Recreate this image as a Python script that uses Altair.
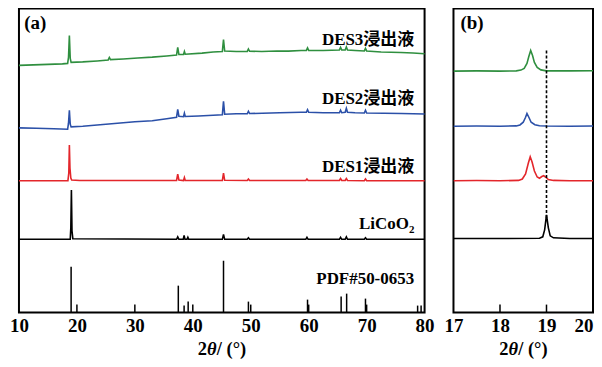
import altair as alt
import pandas as pd

# ---------------- data ----------------
# Panel (a): intensity in arbitrary offset units (stacked patterns)
des3_x = [10.0, 12.5, 15.0, 17.5, 18.4, 18.55, 18.7, 18.85, 19.0, 21.0, 23.5, 25.4, 25.6, 25.8, 28.0, 30.5,
          33.0, 35.5, 37.2, 37.4, 37.6, 38.4, 38.55, 38.7, 41.6, 43.5, 45.1, 45.3, 45.5, 47.5, 49.4, 49.6,
          49.8, 51.9, 54.5, 56.5, 58.7, 59.6, 59.8, 60.0, 62.5, 65.3, 65.5, 65.7, 66.3, 66.5, 66.7, 68.0,
          69.6, 69.8, 70.0, 72.5, 75.9, 78.0, 80.0]
des3_y = [248, 248.5, 249, 249.5, 250, 256, 278, 255, 251, 251.5, 252.5, 253.5, 256, 253.8, 254.5, 255.5,
          256.3, 257.5, 258.5, 266, 259, 259, 262, 259.2, 260.3, 261.5, 262, 274, 262.5, 262, 262, 264.5,
          262.2, 262, 262.5, 262.3, 263, 263, 265.5, 263, 263, 263.5, 266, 263.5, 263.5, 266.5, 263.5, 263,
          262.5, 265, 262.5, 261.5, 261, 260.5, 259.7]

des2_x = [10.0, 13.0, 16.0, 18.4, 18.55, 18.7, 18.85, 19.0, 21.0, 24.0, 27.0, 30.0, 33.0, 35.5, 37.2, 37.4,
          37.6, 38.4, 38.55, 38.7, 41.0, 43.5, 45.1, 45.3, 45.5, 47.5, 49.4, 49.6, 49.8, 52.0, 55.0, 58.7,
          59.6, 59.8, 60.0, 62.5, 65.3, 65.5, 65.7, 66.3, 66.5, 66.7, 68.0, 69.6, 69.8, 70.0, 73.0, 76.0, 80.0]
des2_y = [185.3, 185, 184.5, 184, 190, 203, 189, 186.3, 187, 188.5, 190, 191.5, 192.5, 194.5, 196, 204,
          197, 196.5, 200, 196.8, 197.3, 198, 198.5, 212, 199, 199.5, 199.5, 202, 199.7, 200, 200.5, 201,
          201, 203.5, 201, 200.5, 200.5, 203, 200.5, 201, 205, 201, 200.5, 200.3, 203, 200.3, 200, 199.7, 199.3]

des1_x = [10.0, 18.45, 18.6, 18.7, 18.8, 18.95, 19.1, 20.5, 37.2, 37.4, 37.6, 38.4, 38.55, 38.7, 39.1, 45.1,
          45.3, 45.5, 49.4, 49.6, 49.8, 59.5, 59.7, 59.9, 65.3, 65.5, 65.7, 66.3, 66.5, 66.7, 69.6, 69.8,
          70.0, 80.0]
des1_y = [132.3, 132.3, 140, 168, 145, 135, 133, 132.5, 132.5, 139, 133, 132.5, 135.5, 132.6, 132.5, 132.5,
          140, 132.7, 132.5, 134, 132.5, 132.5, 134, 132.5, 132.5, 134.5, 132.5, 132.5, 134.5, 132.5, 132.3, 134,
          132.3, 132.3]

lco_x = [10.0, 18.85, 18.95, 19.05, 19.15, 19.3, 37.2, 37.4, 37.6, 38.35, 38.5, 38.65, 39.0, 39.15, 39.3,
         45.1, 45.3, 45.5, 49.4, 49.6, 49.8, 59.5, 59.7, 59.9, 65.3, 65.5, 65.7, 66.3, 66.5, 66.7, 69.6,
         69.8, 70.0, 80.0]
lco_y = [73.5, 73.5, 85, 123, 82, 74, 73.5, 76, 73.5, 73.5, 77.5, 73.5, 73.5, 75.5, 73.5,
         73.5, 78.5, 73.5, 73.5, 75, 73.5, 73.5, 75.5, 73.5, 73.5, 75.5, 73.5, 73.5, 76, 73.5, 73.5,
         75, 73.5, 73.5]

pdf_pos = [19.0, 37.5, 38.5, 39.2, 45.3, 49.6, 59.8, 65.6, 66.55, 69.8, 78.8, 79.4]
pdf_h = [46, 27, 7, 11, 52, 11, 13, 16, 19, 14, 7, 7]

# Panel (b): zoom of the (003) peak region
b_des3_x = [17.0, 17.5, 18.0, 18.35, 18.45, 18.52, 18.58, 18.62, 18.66, 18.70, 18.74, 18.8, 18.88, 19.0, 19.5, 20.0]
b_des3_y = [242.3, 242.5, 242.3, 242.5, 243.3, 245, 250, 257, 263, 258, 251, 246, 243.5, 242.5, 242.5, 242.6]
b_des2_x = [17.0, 17.5, 18.0, 18.35, 18.43, 18.5, 18.55, 18.58, 18.62, 18.67, 18.75, 18.85, 19.0, 19.5, 20.0]
b_des2_y = [187, 187.2, 187, 187.3, 188.3, 191, 196, 199.7, 196, 191, 188.5, 187.5, 187.2, 187, 187.2]
b_des1_x = [17.0, 17.5, 18.0, 18.4, 18.48, 18.55, 18.61, 18.65, 18.69, 18.74, 18.8, 18.85, 18.9, 18.94,
            18.98, 19.04, 19.15, 19.5, 20.0]
b_des1_y = [132.3, 132.5, 132.3, 132.6, 134, 139, 150, 156.3, 151, 142, 136, 134.8, 136.5, 137.3,
            136, 133.5, 132.6, 132.3, 132.3]
b_lco_x = [17.0, 18.0, 18.85, 18.92, 18.96, 19.0, 19.04, 19.08, 19.15, 19.5, 20.0]
b_lco_y = [74.3, 74.3, 74.5, 76, 83, 98, 85, 77, 75, 74.3, 74.3]

series_names = ["DES3", "DES2", "DES1", "LiCoO2"]
series_colors = ["#2f8f3f", "#2b50a8", "#e3262b", "#000000"]

labels_a = ["DES3浸出液", "DES2浸出液", "DES1浸出液", "PDF#50-0653"]
labels_a_y = [273.5, 214.5, 146.3, 33.3]

ticks_a = [10, 20, 30, 40, 50, 60, 70, 80]
ticks_b = [17, 18, 19, 20]
inner_ticks_a = [20, 30, 40, 50, 60, 70]
inner_ticks_b = [18, 19]

ref_line_x = 19.0
ref_line_y = (95, 263)

# ---------------- build ----------------
FONT = "Liberation Serif, Noto Sans CJK SC"
W_A, W_B, H = 407, 140, 305


def long_df(xs_list, ys_list, names):
    rows = []
    for xs, ys, n in zip(xs_list, ys_list, names):
        for i, (x, y) in enumerate(zip(xs, ys)):
            rows.append({"x": x, "y": y, "s": n, "i": i})
    return pd.DataFrame(rows)


df_a = long_df([des3_x, des2_x, des1_x, lco_x], [des3_y, des2_y, des1_y, lco_y], series_names)
df_b = long_df([b_des3_x, b_des2_x, b_des1_x, b_lco_x], [b_des3_y, b_des2_y, b_des1_y, b_lco_y], series_names)

ycale = alt.Scale(domain=[0, H], nice=False, zero=False)
color = alt.Color("s:N", scale=alt.Scale(domain=series_names, range=series_colors), legend=None)


def xaxis(vals, right_end=None):
    kw = dict(values=vals, ticks=False, tickSize=0, domain=False, grid=False, title=None,
              labelFont="Liberation Serif", labelFontSize=19, labelFontWeight="bold",
              labelColor="black", labelPadding=4, labelOverlap=False, labelFlush=False)
    if right_end is not None:
        kw["labelAlign"] = alt.condition(f"datum.value == {right_end}", alt.value("right"), alt.value("center"))
    return alt.Axis(**kw)


def title_layers(width):
    x0 = width / 2 - 24.0
    parts = [("2", x0, "normal"), ("θ", x0 + 9.3, "italic"), ("/ (°)", x0 + 19.0, "normal")]
    out = []
    for t, xx, st in parts:
        out.append(alt.Chart(pd.DataFrame({"t": [t]})).mark_text(
            font=FONT, fontSize=18.5, fontWeight="bold", fontStyle=st, align="left",
            baseline="alphabetic", color="black").encode(
            text="t:N", x=alt.value(xx), y=alt.value(H + 43)))
    return out


# Panel (a)
xs_a = alt.Scale(domain=[10, 80], nice=False)
lines_a = alt.Chart(df_a).mark_line(strokeWidth=1.6).encode(
    x=alt.X("x:Q", scale=xs_a, axis=xaxis(ticks_a)),
    y=alt.Y("y:Q", scale=ycale, axis=None),
    color=color, order="i:Q", detail="s:N")
pdf_df = pd.DataFrame({"x": pdf_pos, "y0": [0] * len(pdf_pos), "h": pdf_h})
sticks = alt.Chart(pdf_df).mark_rule(color="black", strokeWidth=1.5).encode(
    x="x:Q", y=alt.Y("y0:Q", scale=ycale), y2="h:Q")
tk_a = pd.DataFrame({"x": inner_ticks_a, "y0": [0] * len(inner_ticks_a), "y1": [8] * len(inner_ticks_a)})
ticks_rule_a = alt.Chart(tk_a).mark_rule(color="black", strokeWidth=1.5).encode(
    x="x:Q", y=alt.Y("y0:Q", scale=ycale), y2="y1:Q")
lab_df = pd.DataFrame({"t": labels_a, "x": [78.2] * len(labels_a), "y": labels_a_y})
labels = alt.Chart(lab_df).mark_text(font=FONT, fontSize=17, fontWeight="bold", align="right",
                                      baseline="middle", color="black").encode(
    x="x:Q", y=alt.Y("y:Q", scale=ycale), text="t:N")
lco_main = alt.Chart(pd.DataFrame({"t": ["LiCoO"], "x": [77.3], "y": [89]})).mark_text(
    font=FONT, fontSize=17, fontWeight="bold", align="right", baseline="middle", color="black").encode(
    x="x:Q", y=alt.Y("y:Q", scale=ycale), text="t:N")
lco_sub = alt.Chart(pd.DataFrame({"t": ["2"], "x": [77.33], "y": [83]})).mark_text(
    font=FONT, fontSize=11, fontWeight="bold", align="left", baseline="middle", color="black").encode(
    x="x:Q", y=alt.Y("y:Q", scale=ycale), text="t:N")
tag_a = alt.Chart(pd.DataFrame({"t": ["(a)"], "x": [10.9], "y": [291]})).mark_text(
    font=FONT, fontSize=19, fontWeight="bold", align="left", baseline="middle", color="black").encode(
    x="x:Q", y=alt.Y("y:Q", scale=ycale), text="t:N")

panel_a = alt.layer(lines_a, sticks, ticks_rule_a, labels, lco_main, lco_sub, tag_a,
                    *title_layers(W_A)).properties(width=W_A, height=H)

# Panel (b)
xs_b = alt.Scale(domain=[17, 20], nice=False)
lines_b = alt.Chart(df_b).mark_line(strokeWidth=1.6, clip=True).encode(
    x=alt.X("x:Q", scale=xs_b, axis=xaxis(ticks_b, right_end=20)),
    y=alt.Y("y:Q", scale=ycale, axis=None),
    color=color, order="i:Q", detail="s:N")
dash = alt.Chart(pd.DataFrame({"x": [ref_line_x], "y0": [ref_line_y[0]], "y1": [ref_line_y[1]]})).mark_rule(
    color="black", strokeWidth=1.6, strokeDash=[3, 2]).encode(
    x="x:Q", y=alt.Y("y0:Q", scale=ycale), y2="y1:Q")
tk_b = pd.DataFrame({"x": inner_ticks_b, "y0": [0] * len(inner_ticks_b), "y1": [8] * len(inner_ticks_b)})
ticks_rule_b = alt.Chart(tk_b).mark_rule(color="black", strokeWidth=1.5).encode(
    x="x:Q", y=alt.Y("y0:Q", scale=ycale), y2="y1:Q")
tag_b = alt.Chart(pd.DataFrame({"t": ["(b)"], "x": [17.15], "y": [291]})).mark_text(
    font=FONT, fontSize=19, fontWeight="bold", align="left", baseline="middle", color="black").encode(
    x="x:Q", y=alt.Y("y:Q", scale=ycale), text="t:N")

panel_b = alt.layer(lines_b, dash, ticks_rule_b, tag_b, *title_layers(W_B)).properties(width=W_B, height=H)

chart = alt.hconcat(panel_a, panel_b, spacing=29, bounds="flush").properties(
    padding={"top": -1, "bottom": 0, "left": 0, "right": 0}, background="white"
).configure_view(stroke="black", strokeWidth=2)

chart.save("out.html", embed_options={"renderer": "svg", "actions": False})
